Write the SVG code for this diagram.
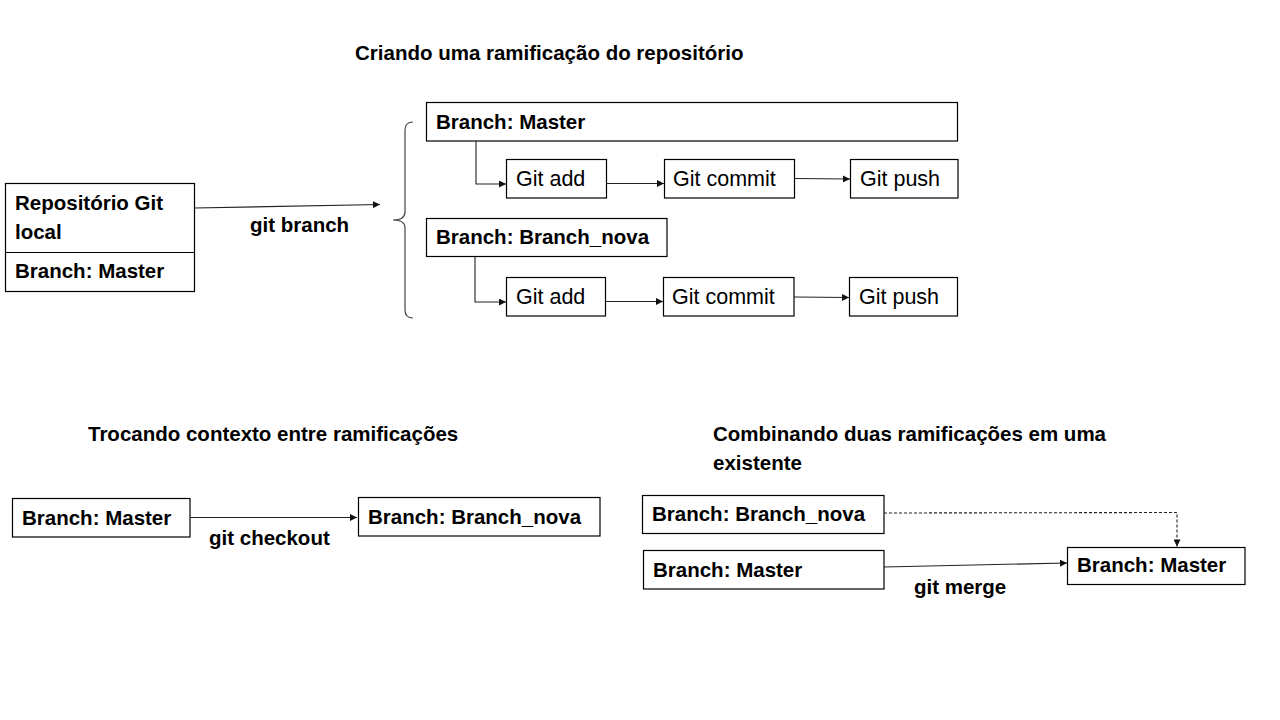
<svg xmlns="http://www.w3.org/2000/svg" width="1280" height="720" viewBox="0 0 1280 720">
<style>
.box{fill:#fff;stroke:#000;stroke-width:1.2}
.b{font-family:"Liberation Sans",Arial,sans-serif;font-weight:bold;font-size:20.5px;fill:#000}
.r{font-family:"Liberation Sans",Arial,sans-serif;font-size:21.5px;fill:#000}
.c{fill:none;stroke:#222;stroke-width:1.1}
.d{fill:none;stroke:#222;stroke-width:1.1;stroke-dasharray:3 2}
</style>
<defs>
<marker id="ah" viewBox="0 0 10 10" refX="10" refY="5" markerWidth="8" markerHeight="7" markerUnits="userSpaceOnUse" orient="auto">
<path d="M0,0 L10,5 L0,10 z" fill="#111"/>
</marker>
</defs>
<rect width="1280" height="720" fill="#fff"/>

<g id="titles">
<text class="b" x="355" y="60">Criando uma ramificação do repositório</text>
<text class="b" x="88" y="441">Trocando contexto entre ramificações</text>
<text class="b" x="713" y="441">Combinando duas ramificações em uma</text>
<text class="b" x="713" y="470">existente</text>
</g>

<g id="repo">
<rect class="box" x="5.5" y="183.5" width="189" height="108"/>
<line x1="5.5" y1="252.5" x2="194.5" y2="252.5" stroke="#000" stroke-width="1.2"/>
<text class="b" x="15" y="210">Repositório Git</text>
<text class="b" x="15" y="239">local</text>
<text class="b" x="15" y="278">Branch: Master</text>
</g>

<g id="brace">
<path d="M413,122 Q405,122 405,130 L405,212 Q405,220 393,220 Q405,220 405,228 L405,310 Q405,318 413,318" fill="none" stroke="#444" stroke-width="1.2"/>
</g>

<g id="master1"><rect class="box" x="426.5" y="102.5" width="531" height="38.5"/><text class="b" x="436" y="129">Branch: Master</text></g>
<g id="add1"><rect class="box" x="506.5" y="159.5" width="100" height="38.5"/><text class="r" x="516" y="186">Git add</text></g>
<g id="commit1"><rect class="box" x="664.5" y="159.5" width="130" height="38.5"/><text class="r" x="673" y="186">Git commit</text></g>
<g id="push1"><rect class="box" x="850.5" y="159.5" width="107.5" height="38.5"/><text class="r" x="860" y="186">Git push</text></g>

<g id="nova1"><rect class="box" x="426.5" y="218.5" width="240.5" height="38"/><text class="b" x="436" y="244">Branch: Branch_nova</text></g>
<g id="add2"><rect class="box" x="506.5" y="277.5" width="99" height="38.5"/><text class="r" x="516" y="304">Git add</text></g>
<g id="commit2"><rect class="box" x="663.5" y="277.5" width="130.5" height="38.5"/><text class="r" x="672" y="304">Git commit</text></g>
<g id="push2"><rect class="box" x="849.5" y="277.5" width="108" height="38.5"/><text class="r" x="859" y="304">Git push</text></g>

<g id="sw-master"><rect class="box" x="12.5" y="498.5" width="177.5" height="38.5"/><text class="b" x="22" y="525">Branch: Master</text></g>
<g id="sw-nova"><rect class="box" x="358.5" y="497.5" width="241.5" height="38.5"/><text class="b" x="368" y="524">Branch: Branch_nova</text></g>

<g id="mg-nova"><rect class="box" x="642.5" y="495.5" width="241.5" height="38"/><text class="b" x="652" y="521">Branch: Branch_nova</text></g>
<g id="mg-master"><rect class="box" x="643.5" y="550.5" width="240.5" height="38.5"/><text class="b" x="653" y="577">Branch: Master</text></g>
<g id="mg-result"><rect class="box" x="1067.5" y="547.5" width="177.5" height="37"/><text class="b" x="1077" y="572">Branch: Master</text></g>

<g id="connectors">
<line class="c" x1="194.5" y1="208" x2="380" y2="204.5" marker-end="url(#ah)"/>
<text class="b" x="250" y="232">git branch</text>
<path class="c" d="M476,141 L476,184 L506,184" marker-end="url(#ah)"/>
<line class="c" x1="607" y1="183.5" x2="664" y2="183.5" marker-end="url(#ah)"/>
<line class="c" x1="795" y1="178.5" x2="850" y2="179" marker-end="url(#ah)"/>
<path class="c" d="M475,257 L475,302 L506,302" marker-end="url(#ah)"/>
<line class="c" x1="606" y1="301.5" x2="663" y2="301.5" marker-end="url(#ah)"/>
<line class="c" x1="794" y1="297" x2="849" y2="297.5" marker-end="url(#ah)"/>
<line class="c" x1="190" y1="517.5" x2="357" y2="517.5" marker-end="url(#ah)"/>
<text class="b" x="209" y="545">git checkout</text>
<path class="d" d="M884,513 L1177,512.5 L1177,546.5" marker-end="url(#ah)"/>
<line class="c" x1="884" y1="567" x2="1067" y2="563" marker-end="url(#ah)"/>
<text class="b" x="914" y="594">git merge</text>
</g>
</svg>
